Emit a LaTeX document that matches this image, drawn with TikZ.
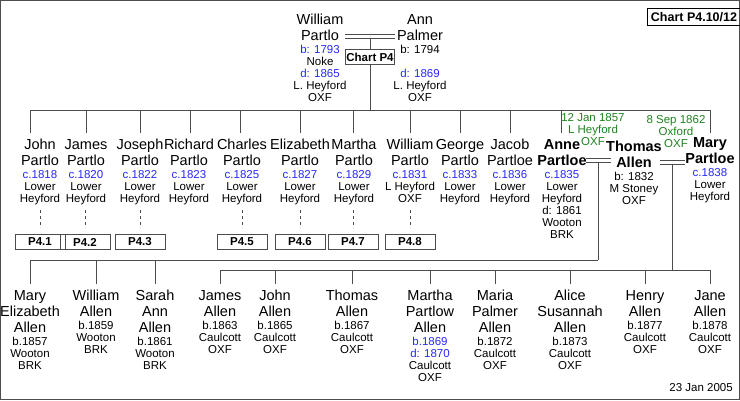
\documentclass[tikz,border=0pt]{standalone}
\usepackage{fontspec}
\setmainfont{Liberation Sans}
\definecolor{dblue}{RGB}{40,40,255}
\definecolor{dgreen}{RGB}{30,130,30}
\newcommand\nmf{\fontsize{14.5}{12}\selectfont}
\newcommand\bl[1]{\textcolor{dblue}{#1}}
\newcommand\smallset{\fontsize{11.5}{12}\selectfont\lineskiplimit=-100pt\lineskip=0pt}
\begin{document}
\begin{tikzpicture}[x=1pt,y=-1pt,
  pers/.style={anchor=north,align=center,inner sep=0pt,font=\smallset},
  ln/.style={draw=black!70,line width=0.8pt},
  pbox/.style={draw=black!70,line width=0.8pt,font=\bfseries\fontsize{11.5}{12}\selectfont,minimum width=50pt,minimum height=15pt,inner sep=1pt},
  mar/.style={pers,text=dgreen}]
\draw[draw=black!70,line width=0.8pt] (0.5,0.5) rectangle (739.5,399.5);
\useasboundingbox (0,0) rectangle (740,400);
\node[draw=black,line width=0.8pt,font=\bfseries\fontsize{12.5}{14}\selectfont,inner sep=3.5pt] (chart) at (694,17) {Chart P4.10/12};
\node[pers,anchor=south east] (date) at (733,392) {23 Jan 2005};
% parents
\node[pers] (wp) at (320,14) {{\nmf William}\\[4pt]{\nmf Partlo}\\[1pt]\bl{b: 1793}\\Noke\\\bl{d: 1865}\\L. Heyford\\OXF};
\node[pers] (ap) at (420,14) {{\nmf Ann}\\[4pt]{\nmf Palmer}\\[1pt]b: 1794\\ \\\bl{d: 1869}\\L. Heyford\\OXF};
\draw[ln] (345,34) -- (395,34) (345,38) -- (395,38);
\node[pbox,minimum width=46pt] (cp4) at (370,57) {Chart P4};
\coordinate (sb) at (370,110);
\draw[ln] (370,38) -- (cp4.north) (cp4.south) -- (sb);
\draw[ln] (30,110) -- (710,110);
% children
\foreach \x/\cx/\a/\b/\c/\d/\e/\n in {
 30/40/John/Partlo/c.1818/Lower/Heyford/1,
 86/86/James/Partlo/c.1820/Lower/Heyford/2,
 140/140/Joseph/Partlo/c.1822/Lower/Heyford/3,
 190/189/Richard/Partlo/c.1823/Lower/Heyford/4,
 240/242/Charles/Partlo/c.1825/Lower/Heyford/5,
 300/300/Elizabeth/Partlo/c.1827/Lower/Heyford/6,
 353/354/Martha/Partlo/c.1829/Lower/Heyford/7,
 410/410/William/Partlo/c.1831/L Heyford/OXF/8,
 460/460/George/Partlo/c.1833/Lower/Heyford/9,
 510/510/Jacob/Partloe/c.1836/Lower/Heyford/10}{
 \node[pers] (c\n) at (\cx,139) {{\nmf \a}\\[4pt]{\nmf \b}\\[1pt]\bl{\c}\\\d\\\e};
 \draw[ln] (\x,110) -- (\x,133);
}
\foreach \n/\x in {1/40,2/85,3/140,5/242,6/300,7/353,8/410}{
 \node[pbox] (p\n) at (\x,242) {P4.\n};
 \draw[ln,dashed,line width=0.5pt] (\x,210) -- (\x,228);
}
\node[pers] (anne) at (562,139) {{\nmf\bfseries Anne}\\[4pt]{\nmf\bfseries Partloe}\\[1pt]\bl{c.1835}\\Lower\\Heyford\\d: 1861\\Wooton\\BRK};
\node[pers] (tom) at (634,141) {{\nmf\bfseries Thomas}\\[4pt]{\nmf\bfseries Allen}\\[1pt]b: 1832\\M Stoney\\OXF};
\node[pers] (mary) at (710,137) {{\nmf\bfseries Mary}\\[4pt]{\nmf\bfseries Partloe}\\[1pt]\bl{c.1838}\\Lower\\Heyford};
\draw[ln] (561,110) -- (561,133) (710,110) -- (710,133);
\node[mar] (d1) at (593,113) {12 Jan 1857\\L Heyford\\OXF};
\node[mar] (d2) at (676,115) {8 Sep 1862\\Oxford\\OXF};
\draw[ln] (586,158) -- (611,158) (586,162) -- (611,162);
\draw[ln] (660,160) -- (685,160) (660,164) -- (685,164);
\draw[ln] (598,162) -- (598,260) (672,164) -- (672,270);
\draw[ln] (30,260) -- (598,260) (220,270) -- (710,270);
% grandchildren
\foreach \x/\y/\t/\n in {
 30/260/{{\nmf Mary}\\[4pt]{\nmf Elizabeth}\\[4pt]{\nmf Allen}\\[1pt]b.1857\\Wooton\\BRK}/1,
 96/260/{{\nmf William}\\[4pt]{\nmf Allen}\\[1pt]b.1859\\Wooton\\BRK}/2,
 155/260/{{\nmf Sarah}\\[4pt]{\nmf Ann}\\[4pt]{\nmf Allen}\\[1pt]b.1861\\Wooton\\BRK}/3,
 220/270/{{\nmf James}\\[4pt]{\nmf Allen}\\[1pt]b.1863\\Caulcott\\OXF}/4,
 275/270/{{\nmf John}\\[4pt]{\nmf Allen}\\[1pt]b.1865\\Caulcott\\OXF}/5,
 352/270/{{\nmf Thomas}\\[4pt]{\nmf Allen}\\[1pt]b.1867\\Caulcott\\OXF}/6,
 430/270/{{\nmf Martha}\\[4pt]{\nmf Partlow}\\[4pt]{\nmf Allen}\\[1pt]\bl{b.1869}\\\bl{d: 1870}\\Caulcott\\OXF}/7,
 495/270/{{\nmf Maria}\\[4pt]{\nmf Palmer}\\[4pt]{\nmf Allen}\\[1pt]b.1872\\Caulcott\\OXF}/8,
 570/270/{{\nmf Alice}\\[4pt]{\nmf Susannah}\\[4pt]{\nmf Allen}\\[1pt]b.1873\\Caulcott\\OXF}/9,
 645/270/{{\nmf Henry}\\[4pt]{\nmf Allen}\\[1pt]b.1877\\Caulcott\\OXF}/10,
 710/270/{{\nmf Jane}\\[4pt]{\nmf Allen}\\[1pt]b.1878\\Caulcott\\OXF}/11}{
 \node[pers] (g\n) at (\x,290) {\t};
 \draw[ln] (\x,\y) -- (\x,284);
}
\end{tikzpicture}
\end{document}
